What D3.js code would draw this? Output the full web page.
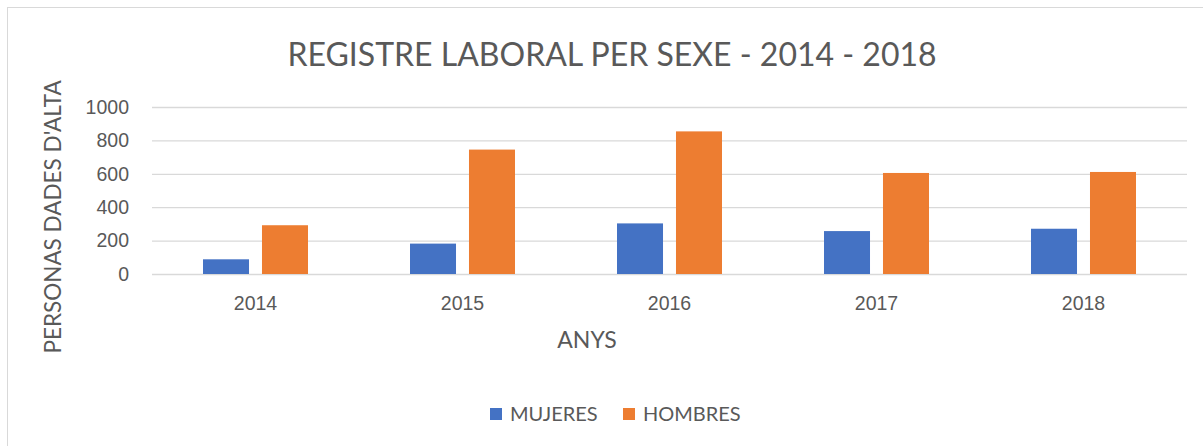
<!DOCTYPE html>
<html lang="ca">
<head>
<meta charset="utf-8">
<style>
  body { margin: 0; background: white; }
  svg { font-family: 'Lato', 'Open Sans', sans-serif; }
  .tick text { fill: #595959; }
</style>
</head>
<body>
<div id="chart"></div>
<script src="https://d3js.org/d3.v7.min.js"></script>
<script>
// data
var years = ["2014", "2015", "2016", "2017", "2018"];
var seriesNames = ["MUJERES", "HOMBRES"];
var mujeres = [88, 182, 303, 257, 271];
var hombres = [292, 745, 854, 605, 611];
var yTicks = [0, 200, 400, 600, 800, 1000];
var colors = ["#4472C4", "#ED7D31"];

var W = 1203, H = 446;
var plot = {left: 152, right: 1187, top: 107, bottom: 274};

var svg = d3.select("#chart").append("svg")
  .attr("width", W).attr("height", H);

// chart border
svg.append("rect")
  .attr("x", 7.5).attr("y", 7.5)
  .attr("width", 1205).attr("height", 450)
  .attr("fill", "white")
  .attr("stroke", "#D9D9D9");

var x = d3.scaleBand().domain(years).range([plot.left, plot.right]);
var xs = d3.scaleBand().domain(seriesNames).range([51, x.bandwidth() - 51]).paddingInner(0.22);
var y = d3.scaleLinear().domain([0, 1000]).range([plot.bottom, plot.top]);

// gridlines + y labels
var yAxis = svg.append("g")
  .attr("transform", "translate(" + plot.left + ",0)")
  .call(d3.axisLeft(y).tickValues(yTicks).tickFormat(d3.format("d"))
    .tickSize(-(plot.right - plot.left)).tickPadding(23));
yAxis.select(".domain").remove();
yAxis.selectAll(".tick line").attr("stroke", "#D9D9D9").attr("stroke-width", 1.3);
yAxis.selectAll(".tick text").style("font-size", "19.5px");

// bars
var rows = years.map(function(d, i) { return {year: d, vals: [mujeres[i], hombres[i]]}; });
var groups = svg.selectAll("g.year").data(rows).enter().append("g")
  .attr("class", "year")
  .attr("transform", function(d) { return "translate(" + x(d.year) + ",0)"; });
groups.selectAll("rect").data(function(d) { return d.vals; }).enter().append("rect")
  .attr("x", function(d, i) { return xs(seriesNames[i]); })
  .attr("width", xs.bandwidth())
  .attr("y", function(d) { return y(d); })
  .attr("height", function(d) { return y(0) - y(d); })
  .attr("fill", function(d, i) { return colors[i]; });

// x axis labels
var xAxis = svg.append("g")
  .attr("transform", "translate(0," + plot.bottom + ")")
  .call(d3.axisBottom(x).tickSize(0).tickPadding(22));
xAxis.select(".domain").remove();
xAxis.selectAll(".tick text").style("font-size", "19.5px");

// title
svg.append("text")
  .attr("x", 612).attr("y", 66)
  .attr("text-anchor", "middle")
  .attr("fill", "#595959")
  .style("font-size", "32px")
  .text("REGISTRE LABORAL PER SEXE - 2014 - 2018");

// axis titles
svg.append("text")
  .attr("x", 587).attr("y", 348)
  .attr("text-anchor", "middle")
  .attr("fill", "#595959")
  .style("font-size", "23px")
  .text("ANYS");

svg.append("text")
  .attr("transform", "translate(61,217) rotate(-90)")
  .attr("text-anchor", "middle")
  .attr("fill", "#595959")
  .style("font-size", "22.5px")
  .text("PERSONAS DADES D'ALTA");

// legend
var legX = [490, 623];
var leg = svg.selectAll("g.leg").data(seriesNames).enter().append("g")
  .attr("class", "leg")
  .attr("transform", function(d, i) { return "translate(" + legX[i] + ",408)"; });
leg.append("rect").attr("width", 12).attr("height", 12)
  .attr("fill", function(d, i) { return colors[i]; });
leg.append("text").attr("x", 20).attr("y", 13)
  .attr("fill", "#595959")
  .style("font-size", "20px")
  .text(function(d) { return d; });
</script>
</body>
</html>
